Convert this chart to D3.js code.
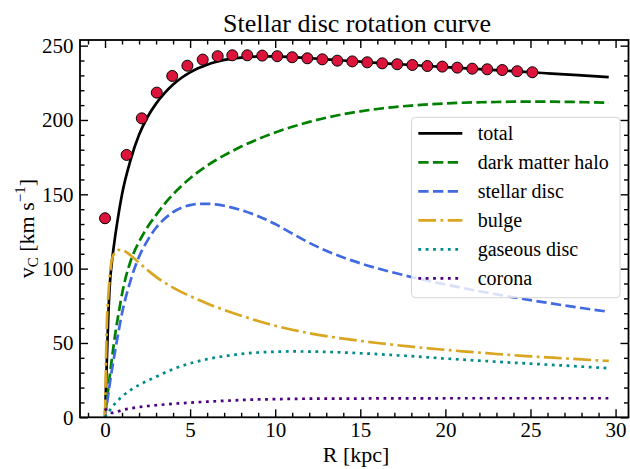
<!DOCTYPE html>
<html>
<head>
<meta charset="utf-8">
<script src="https://cdn.jsdelivr.net/npm/d3@7"></script>
<style>
  html, body { margin: 0; padding: 0; background: #fff; }
  svg { display: block; }
  text { font-family: "Liberation Serif", "Times New Roman", serif; fill: #000; }
</style>
</head>
<body>
<svg id="chart" width="630" height="469"></svg>
<script>
// Galactocentric radius grid shared by the model components (kpc)
const radius = [0, 0.1, 0.2, 0.3, 0.4, 0.6, 0.8, 1.0, 1.5, 2, 2.5, 3, 3.5, 4, 4.5, 5, 5.5, 6, 6.5, 7,
  8, 9, 10, 11, 12, 13, 14, 15, 16, 17, 18, 19, 20, 21, 22, 23, 24, 25, 26, 27, 28, 29.6];

// Circular velocity of each component (km/s)
const vTotal = [0, 36, 70, 92, 104, 122, 137, 150, 173, 190, 202, 211, 218, 223.8, 228.4, 232, 234.9, 237.2, 239, 240.4,
  242, 242.7, 242.8, 242.3, 241.6, 240.8, 240, 239.2, 238.4, 237.7, 237, 236.3, 235.6, 234.9, 234.2, 233.5, 232.8, 232.1, 231.4, 230.7, 230, 228.8];
const vHalo = [3, 10, 20, 30, 39, 56, 70, 83, 105, 118, 128, 136, 143.5, 150, 155.7, 160.8, 165.3, 169.3, 172.9, 176.2,
  182.1, 187.2, 191.6, 195.4, 198.7, 201.5, 203.9, 205.8, 207.4, 208.7, 209.7, 210.5, 211.1, 211.6, 211.9, 212.1, 212.3, 212.3, 212.3, 212.2, 212, 211.6];
const vStellarDisc = [0, 8, 16, 24, 31.5, 45, 58, 70, 92, 108, 119, 127.5, 133.5, 138, 141, 142.7, 143.5, 143.6, 143.2, 142.3,
  139.4, 135.3, 130, 123.6, 117.4, 112, 107.5, 103.6, 100.2, 97.2, 94.4, 91.8, 89.3, 87, 84.8, 82.7, 80.7, 78.8, 77, 75.2, 73.5, 71];
const vBulge = [0, 60, 83, 97, 106, 111, 112.6, 112.4, 109, 104, 99, 94.5, 90.6, 87.2, 84.2, 81.5, 79, 76.6, 74.3, 72.2,
  68.3, 64.8, 61.6, 58.9, 56.6, 54.6, 52.9, 51.4, 50, 48.7, 47.5, 46.4, 45.4, 44.4, 43.5, 42.6, 41.8, 41, 40.3, 39.6, 38.9, 37.9];
const vGasDisc = [0, 2, 3.5, 5, 6.5, 9.4, 11.8, 14, 18.3, 21.8, 24.6, 27.3, 30, 32.4, 34.5, 36.3, 37.8, 39.1, 40.2, 41.1,
  42.6, 43.6, 44.1, 44.3, 44.2, 44, 43.6, 43.1, 42.5, 41.8, 41.1, 40.3, 39.5, 38.8, 38.1, 37.4, 36.7, 36.1, 35.4, 34.8, 34.1, 33];
const vCorona = [6, 4.5, 3.5, 3.1, 3, 3.4, 4.1, 4.8, 6, 6.9, 7.6, 8.1, 8.6, 9.1, 9.5, 9.8, 10.2, 10.5, 10.8, 11.1,
  11.6, 12, 12.2, 12.4, 12.5, 12.5, 12.6, 12.6, 12.7, 12.7, 12.7, 12.7, 12.8, 12.8, 12.8, 12.8, 12.8, 12.8, 12.8, 12.8, 12.8, 12.8];

// Measured rotation curve
const obsR = [0, 1.27, 2.16, 3.04, 3.95, 4.84, 5.74, 6.62, 7.48, 8.36, 9.24, 10.12, 11.0, 11.89, 12.77, 13.65, 14.53,
  15.41, 16.29, 17.17, 18.06, 18.94, 19.82, 20.7, 21.58, 22.46, 23.34, 24.22, 25.11];
const obsV = [133.9, 176.5, 201.1, 218.4, 229.6, 236.5, 240.6, 242.9, 243.5, 243.5, 243.3, 242.9, 242.2, 241.5, 240.8, 239.9, 239.4,
  238.8, 238.1, 237.5, 237.0, 236.3, 235.9, 235.2, 234.5, 234.1, 233.6, 232.8, 232.1];

const componentNames = ["total", "dark matter halo", "stellar disc", "bulge", "gaseous disc", "corona"];
const componentValues = [vTotal, vHalo, vStellarDisc, vBulge, vGasDisc, vCorona];

const xTicks = [0, 5, 10, 15, 20, 25, 30];
const yTicks = [0, 50, 100, 150, 200, 250];

// Line colours and dash patterns for each component
const styles = [
  { color: "#000000", dash: null },
  { color: "#008000", dash: "10.3,4.4" },
  { color: "#4169e1", dash: "10.3,4.4" },
  { color: "#daa520", dash: "17.8,4.4,2.8,4.4" },
  { color: "#008b8b", dash: "2.8,4.6" },
  { color: "#4b0082", dash: "2.8,4.6" }
];

const svg = d3.select("#chart");
const plot = { left: 80, right: 628.5, top: 40, bottom: 417.3 };

const x = d3.scaleLinear().domain([-1.47, 30.76]).range([plot.left, plot.right]);
const y = d3.scaleLinear().domain([0, 253.8]).range([plot.bottom, plot.top]);

svg.append("defs").append("clipPath").attr("id", "plotClip")
  .append("rect")
  .attr("x", plot.left).attr("y", plot.top)
  .attr("width", plot.right - plot.left).attr("height", plot.bottom - plot.top);

// Axes with inward ticks on all four sides
const majorLen = 8, minorLen = 4.5;
const xMinor = d3.range(-1, 31, 1).filter(v => v % 5 !== 0);
const yMinor = d3.range(10, 254, 10).filter(v => v % 50 !== 0);

function styleAxis(g, fontSize) {
  g.attr("font-family", null);
  g.select(".domain").remove();
  g.selectAll(".tick line").attr("stroke", "#000").attr("stroke-width", 1.4);
  g.selectAll(".tick text").style("font-size", fontSize + "px")
    .style("font-family", "'Liberation Serif', 'Times New Roman', serif").attr("fill", "#000");
}

const gxB = svg.append("g").attr("transform", `translate(0,${plot.bottom})`)
  .call(d3.axisBottom(x).tickValues(xTicks).tickSize(-majorLen).tickPadding(5).tickFormat(d3.format("d")));
styleAxis(gxB, 21);
const gxBm = svg.append("g").attr("transform", `translate(0,${plot.bottom})`)
  .call(d3.axisBottom(x).tickValues(xMinor).tickSize(-minorLen).tickFormat(""));
styleAxis(gxBm, 0);
const gxT = svg.append("g").attr("transform", `translate(0,${plot.top})`)
  .call(d3.axisTop(x).tickValues(xTicks).tickSize(-majorLen).tickFormat(""));
styleAxis(gxT, 0);
const gxTm = svg.append("g").attr("transform", `translate(0,${plot.top})`)
  .call(d3.axisTop(x).tickValues(xMinor).tickSize(-minorLen).tickFormat(""));
styleAxis(gxTm, 0);

const gyL = svg.append("g").attr("transform", `translate(${plot.left},0)`)
  .call(d3.axisLeft(y).tickValues(yTicks).tickSize(-majorLen).tickPadding(6.5).tickFormat(d3.format("d")));
styleAxis(gyL, 21);
const gyLm = svg.append("g").attr("transform", `translate(${plot.left},0)`)
  .call(d3.axisLeft(y).tickValues(yMinor).tickSize(-minorLen).tickFormat(""));
styleAxis(gyLm, 0);
const gyR = svg.append("g").attr("transform", `translate(${plot.right},0)`)
  .call(d3.axisRight(y).tickValues(yTicks).tickSize(-majorLen).tickFormat(""));
styleAxis(gyR, 0);
const gyRm = svg.append("g").attr("transform", `translate(${plot.right},0)`)
  .call(d3.axisRight(y).tickValues(yMinor).tickSize(-minorLen).tickFormat(""));
styleAxis(gyRm, 0);

// Model curves
const line = d3.line()
  .x((d, i) => x(radius[i]))
  .y(d => y(d))
  .curve(d3.curveMonotoneX);

const curves = svg.append("g").attr("clip-path", "url(#plotClip)");
componentValues.forEach((vals, k) => {
  curves.append("path")
    .datum(vals)
    .attr("d", line)
    .attr("fill", "none")
    .attr("stroke", styles[k].color)
    .attr("stroke-width", 2.7)
    .attr("stroke-dasharray", styles[k].dash)
    .attr("stroke-linecap", "butt")
    .attr("stroke-linejoin", "round");
});

// Observed points
curves.append("g").selectAll("circle")
  .data(obsR)
  .join("circle")
  .attr("cx", d => x(d))
  .attr("cy", (d, i) => y(obsV[i]))
  .attr("r", 5.5)
  .attr("fill", "#dc143c")
  .attr("stroke", "#000")
  .attr("stroke-width", 1);

// Frame
svg.append("rect")
  .attr("x", plot.left).attr("y", plot.top)
  .attr("width", plot.right - plot.left).attr("height", plot.bottom - plot.top)
  .attr("fill", "none").attr("stroke", "#000").attr("stroke-width", 1.8);

// Legend
const legend = svg.append("g");
legend.append("rect")
  .attr("x", 411.5).attr("y", 117.3).attr("width", 208.5).attr("height", 180.4)
  .attr("rx", 4).attr("ry", 4)
  .attr("fill", "#fff").attr("fill-opacity", 0.8)
  .attr("stroke", "#d6d6d6").attr("stroke-width", 1);
componentNames.forEach((name, k) => {
  const yy = 133.3 + k * 29;
  legend.append("line")
    .attr("x1", 418.3).attr("x2", 462.3).attr("y1", yy).attr("y2", yy)
    .attr("stroke", styles[k].color).attr("stroke-width", 2.7)
    .attr("stroke-dasharray", styles[k].dash);
  legend.append("text")
    .attr("x", 477.7).attr("y", yy + 6.5)
    .style("font-size", "20px")
    .text(name);
});

// Title and axis labels
svg.append("text")
  .attr("x", 357).attr("y", 31.5)
  .attr("text-anchor", "middle")
  .style("font-size", "26px")
  .text("Stellar disc rotation curve");

svg.append("text")
  .attr("x", 356).attr("y", 461.5)
  .attr("text-anchor", "middle")
  .style("font-size", "22px")
  .text("R [kpc]");

const yl = svg.append("text")
  .attr("transform", `translate(34,${(plot.top + plot.bottom) / 2}) rotate(-90)`)
  .attr("text-anchor", "middle")
  .style("font-size", "22px");
yl.append("tspan").text("v");
yl.append("tspan").attr("dy", 4).style("font-size", "15px").text("C");
yl.append("tspan").attr("dy", -4).text(" [km s");
yl.append("tspan").attr("dy", -9).style("font-size", "15px").text("\u22121");
yl.append("tspan").attr("dy", 9).text("]");
</script>
</body>
</html>
